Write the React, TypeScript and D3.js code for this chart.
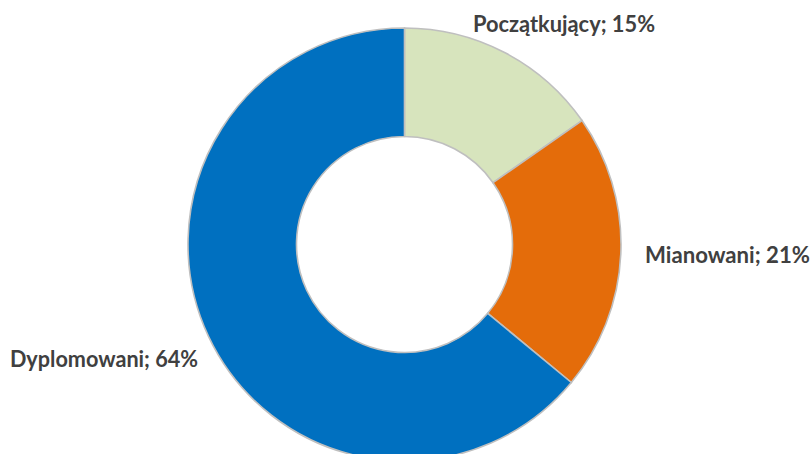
import React from "react";
import * as d3 from "d3";

const categories = ["Początkujący", "Mianowani", "Dyplomowani"];
const values = [15.3, 20.7, 64.0];
const colors = ["#D7E4BD", "#E46C0A", "#0070C0"];
// label anchor points (center x, baseline y)
const labelPos: [number, number][] = [
  [564, 32],
  [727.5, 263],
  [104, 367],
];
const labelWidths = [182, 165, 188];

const W = 811;
const H = 454;
const cx = 404.5;
const cy = 244.5;
const R = 216.5;
const r = 108;

export default function App() {
  const total = d3.sum(values);
  const pie = d3
    .pie<number>()
    .sort(null)
    .value((d) => d);
  const arcs = pie(values);
  const arcGen = d3.arc<d3.PieArcDatum<number>>().innerRadius(r).outerRadius(R);

  return (
    <svg
      width={W}
      height={H}
      style={{ position: "absolute", left: 0, top: 0, background: "#fff" }}
    >
      <g transform={`translate(${cx},${cy})`}>
        {arcs.map((a, i) => (
          <path
            key={i}
            d={arcGen(a) || ""}
            fill={colors[i]}
            stroke="#BFBFBF"
            strokeWidth={1.6}
          />
        ))}
      </g>
      {arcs.map((a, i) => (
        <text
          key={"t" + i}
          x={labelPos[i][0]}
          y={labelPos[i][1]}
          textAnchor="middle"
          fontFamily="Lato, 'Open Sans', sans-serif"
          fontWeight="bold"
          fontSize={22}
          fill="#404040"
          textLength={labelWidths[i]}
          lengthAdjust="spacingAndGlyphs"
        >
          {`${categories[i]}; ${Math.round((values[i] / total) * 100)}%`}
        </text>
      ))}
    </svg>
  );
}
